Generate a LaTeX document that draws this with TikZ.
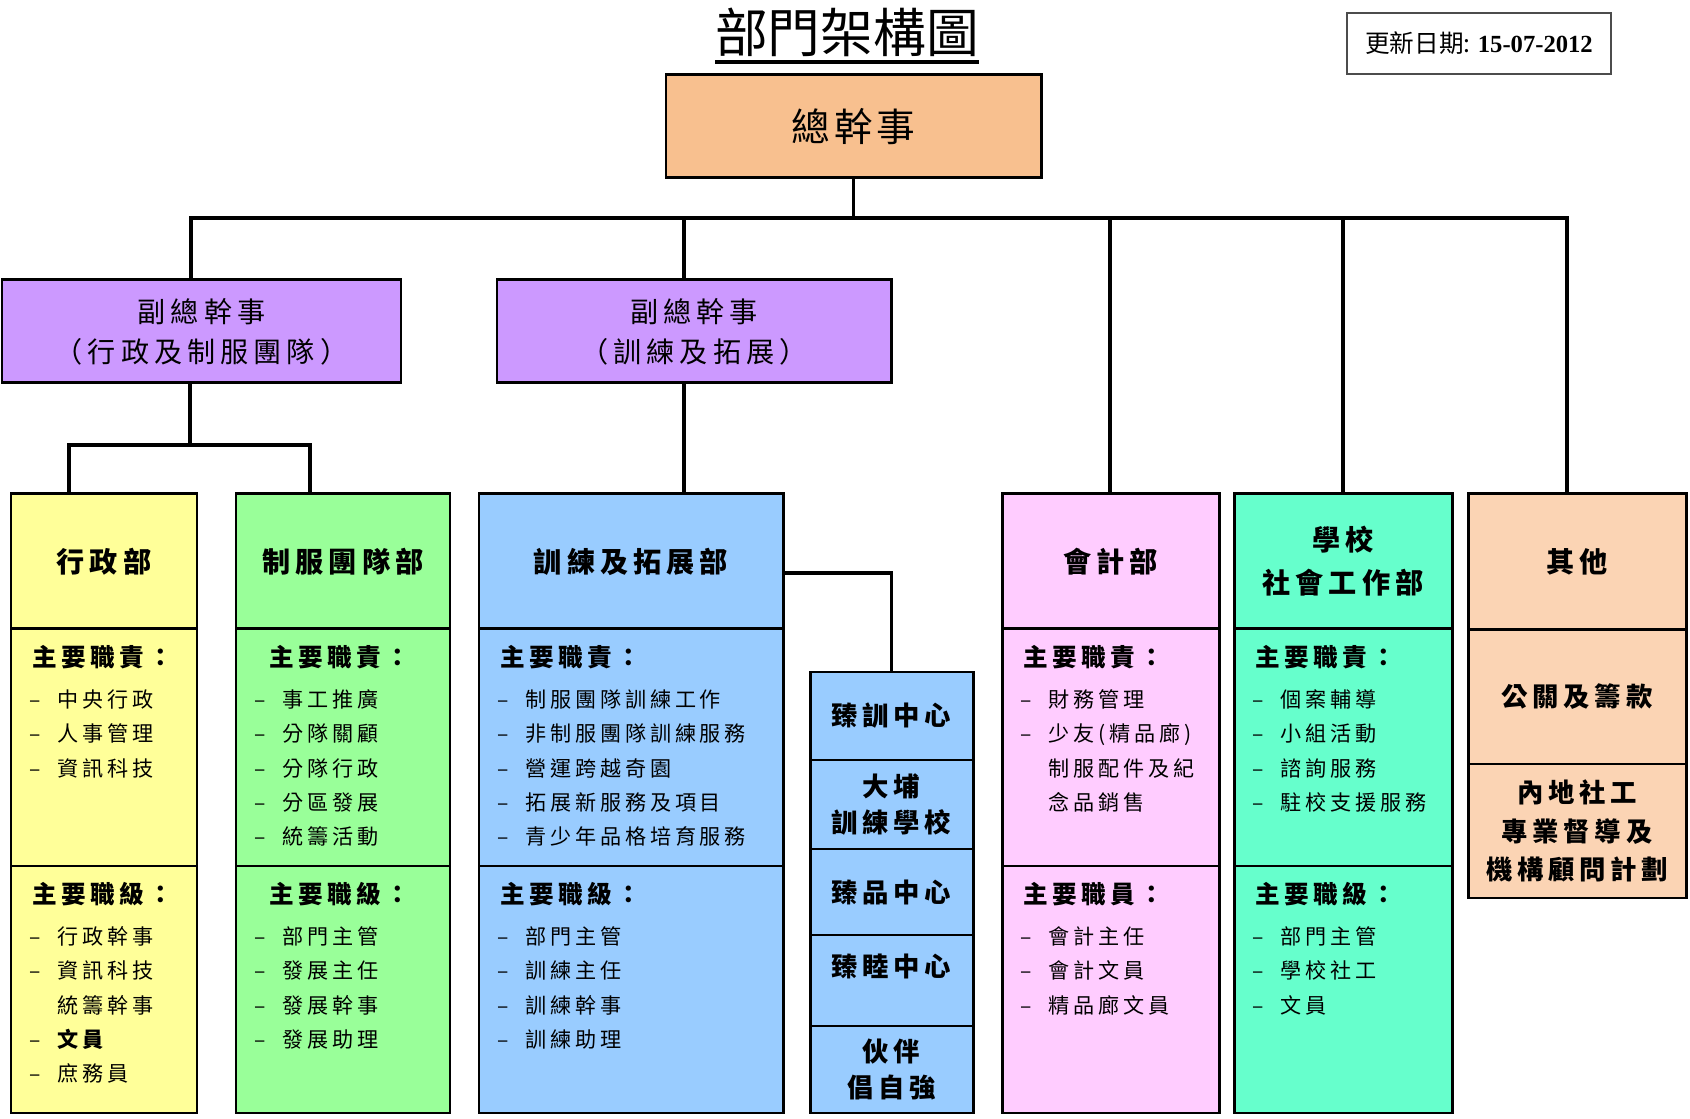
\documentclass[tikz,border=0pt]{standalone}
\usepackage{fontspec}
\setmainfont{Noto Sans CJK TC}
\newfontfamily\cjkls[LetterSpace=18]{Noto Sans CJK TC}
\newfontfamily\cjkgs[LetterSpace=10]{Noto Sans CJK TC}
\newfontfamily\tnr{Liberation Serif}
\usetikzlibrary{positioning}

\definecolor{gscol}{HTML}{F8C08F}
\definecolor{ddcol}{HTML}{CC99FF}
\definecolor{admcol}{HTML}{FFFF99}
\definecolor{unicol}{HTML}{99FF99}
\definecolor{trncol}{HTML}{99CCFF}
\definecolor{acccol}{HTML}{FFCCFF}
\definecolor{schcol}{HTML}{66FFCC}
\definecolor{othcol}{HTML}{FBD4B4}

\newcommand{\hd}[1]{\rule{0pt}{0.3cm}{\fontsize{7}{9.7}\selectfont\bfseries #1}}
\newcommand{\itm}[1]{\makebox[0.28cm][l]{–}#1}
\newcommand{\itx}[1]{\hspace*{0.28cm}#1}
\newcommand{\titleul}[1]{\setbox0\hbox{#1}\rlap{\rule[-0.11cm]{\wd0}{1pt}}\box0}

\tikzset{
  cell/.style 2 args={draw, line width=0.85pt, inner sep=0pt, outer sep=0pt, align=center,
    minimum width=#1*0.01cm, minimum height=#2*0.01cm},
  conn/.style={line width=1pt},
  ttl/.style={font=\fontsize{8}{12.3}\selectfont\cjkls\bfseries},
  subbox/.style={font=\fontsize{7.5}{10.5}\selectfont\cjkls\bfseries},
  lst/.style={anchor=north west, align=left, inner sep=0pt, font=\fontsize{6}{9.7}\selectfont\cjkls},
}

\begin{document}
\begin{tikzpicture}[x=0.01cm, y=-0.01cm]
  \useasboundingbox (0,0) rectangle (1690,1119);

  \node (title) at (847,36) {\fontsize{15}{18}\selectfont\titleul{部門架構圖}};
  \node[draw=black!70, line width=0.4pt, minimum width=264*0.01cm, minimum height=61*0.01cm,
    font=\fontsize{7}{8}\selectfont] (date) at (1479,43.5) {更新日期: {\tnr\bfseries 15-07-2012}};

  % top levels
  \node[cell={375}{103}, fill=gscol, font=\fontsize{11}{13}\selectfont\cjkgs] (gs) at (853.5,126.5) {總幹事};
  \node[cell={399}{103}, fill=ddcol, font=\fontsize{8}{11.4}\selectfont\cjkls] (dd1) at (201.5,331.5) {副總幹事\\（行政及制服團隊）};
  \node[cell={394}{103}, fill=ddcol, font=\fontsize{8}{11.4}\selectfont\cjkls] (dd2) at (694,331.5) {副總幹事\\（訓練及拓展）};

  % departments
  \foreach \n/\x/\w/\col/\txt in {adm/11/186/admcol/行政部, uni/236/214/unicol/制服團隊部,
      trn/479/304/trncol/訓練及拓展部, acc/1002/217/acccol/會計部, sch/1234/218/schcol/{學校\\社會工作部}} {
    \node[cell={\w}{135}, fill=\col, anchor=north west, ttl] (\n-t) at (\x,494) {\txt};
    \node[cell={\w}{237}, fill=\col, below=0pt of \n-t] (\n-d) {};
    \node[cell={\w}{247}, fill=\col, below=0pt of \n-d] (\n-r) {};
  }

  \node[cell={218}{136}, fill=othcol, anchor=north west, ttl] (oth-t) at (1468,494) {其他};
  \node[cell={218}{134}, fill=othcol, below=0pt of oth-t, subbox] (oth-a) {公關及籌款};
  \node[cell={218}{134}, fill=othcol, below=0pt of oth-a, subbox,
    font=\fontsize{7.5}{11}\selectfont\cjkls\bfseries] (oth-b) {內地社工\\專業督導及\\機構顧問計劃};

  % centres under training
  \node[cell={163}{88}, fill=trncol, anchor=north west, subbox] (ctr1) at (810,672) {臻訓中心};
  \node[cell={163}{89}, fill=trncol, below=0pt of ctr1, subbox] (ctr2) {大埔\\訓練學校};
  \node[cell={163}{86}, fill=trncol, below=0pt of ctr2, subbox] (ctr3) {臻品中心};
  \node[cell={163}{91}, fill=trncol, below=0pt of ctr3] (ctr4) {};
  \node[subbox] (ctr4-txt) at ([yshift=0.14cm]ctr4.center) {臻睦中心};
  \node[cell={163}{87}, fill=trncol, below=0pt of ctr4, subbox] (ctr5) {伙伴\\倡自強};

  % duties
  \node[lst] (adm-dl) at ([shift={(18,7)}]adm-d.north west)
    {\hspace*{0.03cm}\hd{主要職責：}\\[2pt]\itm{中央行政}\\\itm{人事管理}\\\itm{資訊科技}};
  \node[lst] (uni-dl) at ([shift={(18,7)}]uni-d.north west)
    {\hspace*{0.15cm}\hd{主要職責：}\\[2pt]\itm{事工推廣}\\\itm{分隊關顧}\\\itm{分隊行政}\\\itm{分區發展}\\\itm{統籌活動}};
  \node[lst] (trn-dl) at ([shift={(18,7)}]trn-d.north west)
    {\hspace*{0.03cm}\hd{主要職責：}\\[2pt]\itm{制服團隊訓練工作}\\\itm{非制服團隊訓練服務}\\\itm{營運跨越奇園}\\\itm{拓展新服務及項目}\\\itm{青少年品格培育服務}};
  \node[lst] (acc-dl) at ([shift={(18,7)}]acc-d.north west)
    {\hspace*{0.03cm}\hd{主要職責：}\\[2pt]\itm{財務管理}\\\itm{少友(精品廊)}\\\itx{制服配件及紀}\\\itx{念品銷售}};
  \node[lst] (sch-dl) at ([shift={(18,7)}]sch-d.north west)
    {\hspace*{0.03cm}\hd{主要職責：}\\[2pt]\itm{個案輔導}\\\itm{小組活動}\\\itm{諮詢服務}\\\itm{駐校支援服務}};

  % ranks
  \node[lst] (adm-rl) at ([shift={(18,7)}]adm-r.north west)
    {\hspace*{0.03cm}\hd{主要職級：}\\[2pt]\itm{行政幹事}\\\itm{資訊科技}\\\itx{統籌幹事}\\\itm{\bfseries 文員}\\\itm{庶務員}};
  \node[lst] (uni-rl) at ([shift={(18,7)}]uni-r.north west)
    {\hspace*{0.15cm}\hd{主要職級：}\\[2pt]\itm{部門主管}\\\itm{發展主任}\\\itm{發展幹事}\\\itm{發展助理}};
  \node[lst] (trn-rl) at ([shift={(18,7)}]trn-r.north west)
    {\hspace*{0.03cm}\hd{主要職級：}\\[2pt]\itm{部門主管}\\\itm{訓練主任}\\\itm{訓練幹事}\\\itm{訓練助理}};
  \node[lst] (acc-rl) at ([shift={(18,7)}]acc-r.north west)
    {\hspace*{0.03cm}\hd{主要職員：}\\[2pt]\itm{會計主任}\\\itm{會計文員}\\\itm{精品廊文員}};
  \node[lst] (sch-rl) at ([shift={(18,7)}]sch-r.north west)
    {\hspace*{0.03cm}\hd{主要職級：}\\[2pt]\itm{部門主管}\\\itm{學校社工}\\\itm{文員}};

  % connectors
  \coordinate (busL) at (191,218);
  \coordinate (busR) at (1567,218);
  \draw[conn] (gs.south) -- (gs.south |- busL);
  \draw[conn] (dd1.north -| busL) -- (busL) -- (busR) -- (oth-t.north -| busR);
  \foreach \x/\n in {684/dd2, 1110/acc-t, 1343/sch-t}
    \draw[conn] (\n.north -| \x,0) -- (\x,218);

  \coordinate (j1) at (190,445);
  \draw[conn] (dd1.south -| j1) -- (j1);
  \draw[conn] (adm-t.north -| 69,0) -- (69,445) -- (310,445) -- (uni-t.north -| 310,0);
  \draw[conn] (dd2.south -| 684,0) -- (trn-t.north -| 684,0);
  \draw[conn] (trn-t.east |- 0,573) -| (ctr1.north);
\end{tikzpicture}
\end{document}
